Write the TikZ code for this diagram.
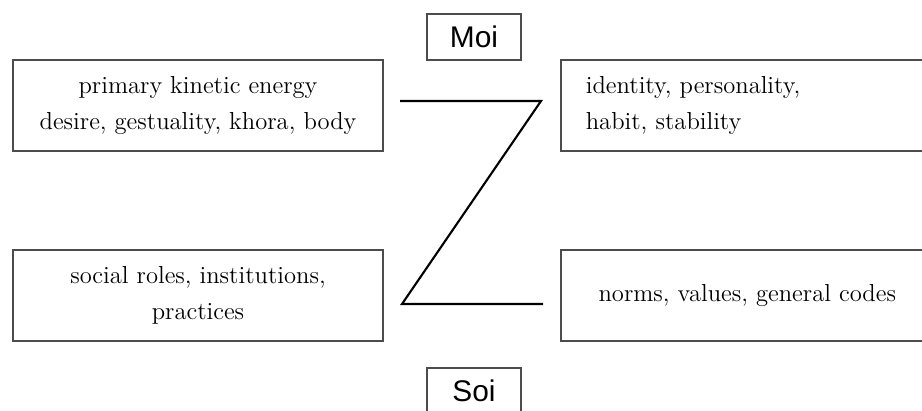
\documentclass[tikz,border=0pt]{standalone}
\usepackage{fontspec}
\newfontfamily\labelfont{Liberation Sans}
\usetikzlibrary{positioning}

\begin{document}
\begin{tikzpicture}[x=0.02cm, y=-0.02cm, node distance=1.94cm and 3.52cm, box/.style = {draw=black!70, line width=1.1pt, minimum width=7.4cm, minimum height=1.82cm, inner sep=0pt, align=center, font=\fontsize{14}{20}\selectfont}, leftbox/.style = {box, text width=6.46cm, align=left, inner xsep=0.5cm}, tag/.style = {draw=black!70, line width=1.1pt, minimum width=1.88cm, minimum height=0.92cm, inner sep=0pt, font=\labelfont\fontsize{17}{17}\selectfont}, zline/.style = {line width=1.2pt, line join=miter}]

\useasboundingbox (0,0) rectangle (922,410);
\clip (0,0) rectangle (922,410);

\node[box] (kinetic) at (198,105.5) {primary kinetic energy\\desire, gestuality, khora, body};
\node[leftbox] (identity) [right=3.52cm of kinetic] {identity, personality,\\habit, stability};
\node[box] (roles) [below=1.94cm of kinetic] {social roles, institutions,\\practices};
\node[box, minimum width=7.46cm] (norms) [right=3.52cm of roles] {norms, values, general codes};
\node[tag] (moi) at (474,37) {Moi};
\node[tag] (soi) at (474,391) {Soi};

% the Z between the columns
\coordinate (z1) at (400,101);
\coordinate (z2) at (541,101);
\coordinate (z3) at (402,304);
\coordinate (z4) at (543,304);
\draw[zline] (z1) -- (z2) -- (z3) -- (z4);
\end{tikzpicture}
\end{document}
